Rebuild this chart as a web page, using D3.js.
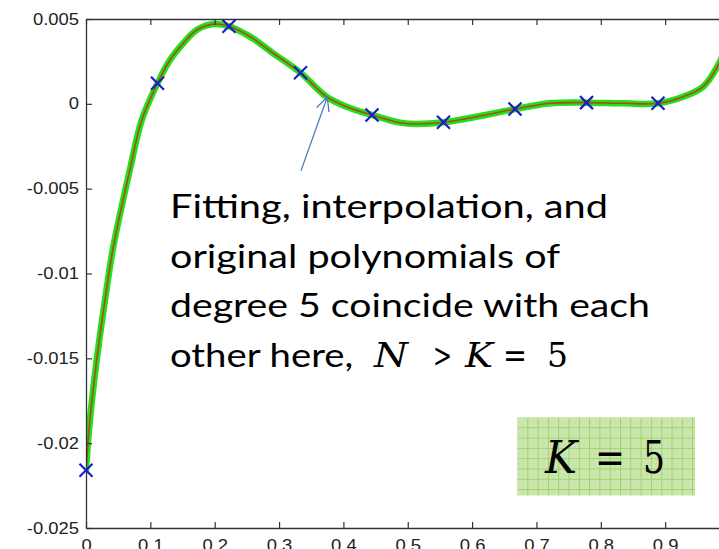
<!DOCTYPE html>
<html>
<head>
<meta charset="utf-8">
<script src="https://cdn.jsdelivr.net/npm/d3@7/dist/d3.min.js"></script>
<style>
  html, body { margin: 0; padding: 0; background: #fff; overflow: hidden; }
  svg { display: block; }
</style>
</head>
<body>
<svg id="chart" width="719" height="549"></svg>
<script>
// Axis ticks
const xTicks = [0, 0.1, 0.2, 0.3, 0.4, 0.5, 0.6, 0.7, 0.8, 0.9];
const xTickLabels = ["0", "0.1", "0.2", "0.3", "0.4", "0.5", "0.6", "0.7", "0.8", "0.9"];
const yTicks = [0.005, 0, -0.005, -0.01, -0.015, -0.02, -0.025];
const yTickLabels = ["0.005", "0", "-0.005", "-0.01", "-0.015", "-0.02", "-0.025"];

// Sample nodes (x marks)
const nodeX = [0, 1/9, 2/9, 3/9, 4/9, 5/9, 6/9, 7/9, 8/9];
const nodeY = [-0.0216, 0.00121, 0.00457, 0.00183, -0.00066, -0.00109, -0.00031, 0.00007, 0.00003];

// Degree-5 polynomial curve (fitting / interpolation / original coincide)
const curveX = [0, 0.0051, 0.0166, 0.0311, 0.0424, 0.068, 0.0866, 1/9, 0.1305, 0.1512, 0.172, 0.198,
                2/9, 0.2549, 0.291, 3/9, 0.3737, 0.405, 4/9, 0.488, 0.514, 5/9, 0.607, 6/9,
                0.721, 7/9, 0.835, 8/9, 0.928, 0.959, 0.984, 1.0];
const curveY = [-0.0216, -0.01904, -0.01511, -0.01116, -0.00843, -0.00392, -0.00096, 0.00121, 0.00258, 0.00357, 0.00435, 0.0047,
                0.00457, 0.00396, 0.00298, 0.00183, 0.00042, -0.00017, -0.00066, -0.00111, -0.00119, -0.00109, -0.00076, -0.00031,
                0.00003, 0.00007, 0.00003, 0.00003, 0.00042, 0.00101, 0.0024, 0.0040];

// Annotation text
const noteLines = ["Fitting, interpolation, and", "original polynomials of", "degree 5 coincide with each", "other here, "];
const noteMath = ["N", ">", "K", "=", "5"];
const boxMath = ["K", "=", "5"];

const svg = d3.select("#chart");
const margin = { left: 86, top: 19, bottom: 528, right: 729.5 };

const x = d3.scaleLinear().domain([0, 1]).range([margin.left, margin.right]);
const y = d3.scaleLinear().domain([-0.025, 0.005]).range([margin.bottom, margin.top]);

// Horizontal stretch helper for text
function stretch(sel, k) {
  sel.each(function () {
    const w = this.getComputedTextLength();
    d3.select(this).attr("textLength", w * k).attr("lengthAdjust", "spacingAndGlyphs");
  });
}

const defs = svg.append("defs");
defs.append("clipPath").attr("id", "plotClip")
  .append("rect")
  .attr("x", margin.left).attr("y", margin.top)
  .attr("width", margin.right - margin.left).attr("height", margin.bottom - margin.top);

// Curves
const curvePts = curveX.map((d, i) => [d, curveY[i]]);
const line = d3.line().x(d => x(d[0])).y(d => y(d[1])).curve(d3.curveCatmullRom.alpha(0.5));
const curves = svg.append("g").attr("clip-path", "url(#plotClip)");
curves.append("path").attr("d", line(curvePts))
  .attr("fill", "none").attr("stroke", "#22e01c").attr("stroke-width", 6.5)
  .attr("stroke-linejoin", "round").attr("stroke-linecap", "round");
curves.append("path").attr("d", line(curvePts))
  .attr("fill", "none").attr("stroke", "#b4481c").attr("stroke-width", 1.6)
  .attr("stroke-linejoin", "round");

// Axes
const axisColor = "#333";
const tickFont = "'Liberation Sans', Arial, sans-serif";

const gx = svg.append("g").attr("transform", `translate(0,${margin.bottom})`)
  .call(d3.axisBottom(x).tickValues(xTicks).tickFormat((d, i) => xTickLabels[i])
    .tickSizeInner(-6).tickSizeOuter(0).tickPadding(11.5));
const gxTop = svg.append("g").attr("transform", `translate(0,${margin.top})`)
  .call(d3.axisTop(x).tickValues(xTicks).tickFormat("")
    .tickSizeInner(-6).tickSizeOuter(0));
const gy = svg.append("g").attr("transform", `translate(${margin.left},0)`)
  .call(d3.axisLeft(y).tickValues(yTicks).tickFormat((d, i) => yTickLabels[i])
    .tickSizeInner(-6).tickSizeOuter(0).tickPadding(7));

[gx, gxTop, gy].forEach(g => {
  g.selectAll(".domain").attr("stroke", axisColor).attr("stroke-width", 1.3);
  g.selectAll(".tick line").attr("stroke", axisColor).attr("stroke-width", 1.2);
  g.selectAll("text").attr("font-family", tickFont).attr("font-size", 16).attr("fill", "#222");
});
stretch(gx.selectAll(".tick text"), 1.15);
stretch(gy.selectAll(".tick text"), 1.15);

// Node markers
const mk = 6.5;
const marks = svg.append("g").attr("stroke", "#1c1cc8").attr("stroke-width", 2.2).attr("fill", "none");
nodeX.forEach((d, i) => {
  const cx = x(d), cy = y(nodeY[i]);
  marks.append("path").attr("d", `M${cx - mk},${cy - mk}L${cx + mk},${cy + mk}M${cx - mk},${cy + mk}L${cx + mk},${cy - mk}`);
});

// Pointer arrow to the curve
const arrowTip = [0.375, 0.0004], arrowTail = [0.334, -0.00395];
const ax1 = x(arrowTail[0]), ay1 = y(arrowTail[1]), ax2 = x(arrowTip[0]), ay2 = y(arrowTip[1]);
const ang = Math.atan2(ay2 - ay1, ax2 - ax1), hl = 15, ha = 0.45;
svg.append("path")
  .attr("d", `M${ax1},${ay1}L${ax2},${ay2}` +
    `M${ax2 - hl * Math.cos(ang - ha)},${ay2 - hl * Math.sin(ang - ha)}L${ax2},${ay2}` +
    `L${ax2 - hl * Math.cos(ang + ha)},${ay2 - hl * Math.sin(ang + ha)}`)
  .attr("fill", "none").attr("stroke", "#4a7ebb").attr("stroke-width", 1.3);

// Annotation text
const noteFont = "Lato, 'Open Sans', sans-serif";
const mathFont = "'DejaVu Serif', 'Liberation Serif', serif";
const noteX = 170, noteBase = [218, 267.5, 317, 367];
const noteWidths = [438, 390, 480, 193];
const note = svg.append("g").attr("font-family", noteFont).attr("font-size", 32).attr("fill", "#000");
noteLines.forEach((t, i) => {
  note.append("text").attr("x", noteX).attr("y", noteBase[i])
    .attr("textLength", noteWidths[i]).attr("lengthAdjust", "spacingAndGlyphs")
    .style("white-space", "pre").text(t);
});
const mathX = [374, 433, 465, 503, 547], mathW = [34, 19, 28, 24, 21];
noteMath.forEach((t, i) => {
  note.append("text").attr("x", mathX[i]).attr("y", noteBase[3])
    .attr("font-family", mathFont).attr("font-size", 34)
    .attr("font-style", (t === "N" || t === "K") ? "italic" : "normal")
    .attr("textLength", mathW[i]).attr("lengthAdjust", "spacingAndGlyphs")
    .text(t);
});

// Labelled box with a small-grid fill
const pat = defs.append("pattern").attr("id", "smallGrid")
  .attr("patternUnits", "userSpaceOnUse").attr("width", 10.3).attr("height", 10.3)
  .attr("x", 517).attr("y", 417);
pat.append("rect").attr("width", 10.3).attr("height", 10.3).attr("fill", "#cbe7ae");
pat.append("path").attr("d", "M0,0.5H10.3M0.5,0V10.3").attr("stroke", "#9ed26b").attr("stroke-width", 1);
pat.append("path").attr("d", "M2,5.6H3M6,5.6H7M5.6,2V3M5.6,7V8").attr("stroke", "#b4dc8c").attr("stroke-width", 1);

svg.append("rect").attr("x", 517.5).attr("y", 417.5).attr("width", 177.5).attr("height", 78)
  .attr("fill", "url(#smallGrid)");
const boxX = [545, 595, 643], boxW = [32, 30, 22];
boxMath.forEach((t, i) => {
  svg.append("text").attr("x", boxX[i]).attr("y", 472.7)
    .attr("font-family", mathFont).attr("font-size", 45).attr("fill", "#000")
    .attr("font-style", t === "K" ? "italic" : "normal")
    .attr("textLength", boxW[i]).attr("lengthAdjust", "spacingAndGlyphs")
    .text(t);
});
</script>
</body>
</html>
